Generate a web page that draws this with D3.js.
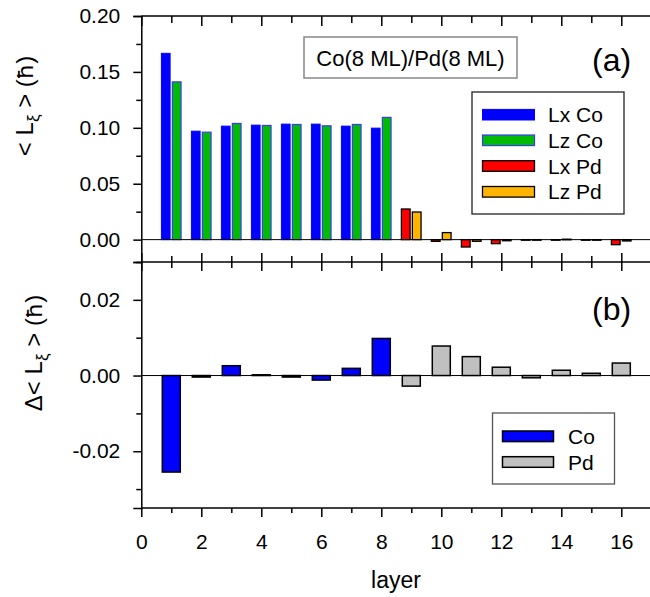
<!DOCTYPE html>
<html>
<head>
<meta charset="utf-8">
<script src="https://cdn.jsdelivr.net/npm/d3@7"></script>
<style>
  html, body { margin: 0; padding: 0; background: #fff; }
  svg { display: block; font-family: "Liberation Sans", Arial, sans-serif; }
</style>
</head>
<body>
<svg id="chart" width="650" height="597"></svg>
<script>
// Orbital moment per layer, Co(8 ML)/Pd(8 ML)
const layers = d3.range(1, 17);
const coLayers = [1, 2, 3, 4, 5, 6, 7, 8];
const pdLayers = [9, 10, 11, 12, 13, 14, 15, 16];

// panel (a): <L_xi> components
const lxCo = [0.1666, 0.0970, 0.1015, 0.1024, 0.1033, 0.1033, 0.1015, 0.0997];
const lzCo = [0.1411, 0.0961, 0.1039, 0.1021, 0.1030, 0.1018, 0.1030, 0.1093];
const lxPd = [0.0274, -0.0015, -0.0066, -0.0036, -0.0005, -0.0005, -0.0005, -0.0045];
const lzPd = [0.0247, 0.0063, -0.0015, -0.0010, -0.0005, 0.0004, -0.0005, -0.0012];

// panel (b): anisotropy Delta<L_xi>
const dCo = [-0.0255, -0.0004, 0.0026, 0.0002, -0.0004, -0.0012, 0.0019, 0.0098];
const dPd = [-0.0028, 0.0078, 0.0050, 0.0022, -0.0006, 0.0014, 0.0006, 0.0033];

const xTickLabels = [0, 2, 4, 6, 8, 10, 12, 14, 16];
const yTicksA = [0.00, 0.05, 0.10, 0.15, 0.20];
const yTicksB = [-0.02, 0.00, 0.02];

const legendA = ["Lx Co", "Lz Co", "Lx Pd", "Lz Pd"];
const legendB = ["Co", "Pd"];

const svg = d3.select("#chart");
const W = 650;

const x = d3.scaleLinear().domain([0, 17.5]).range([141.3, 666.3]);
const yA = d3.scaleLinear().domain([-0.02, 0.20]).range([262, 16]);
const yB = d3.scaleLinear().domain([-0.035, 0.03]).range([508, 262]);

const fmt = d3.format(".2f");
const minusFmt = v => (v < 0 ? "-" : "") + fmt(Math.abs(v));

const styles = {
  "Lx Co": { fill: "#0000ff", stroke: "#0000ff", sw: 1 },
  "Lz Co": { fill: "#00bb00", stroke: "#3a3aff", sw: 1.2 },
  "Lx Pd": { fill: "#ff0000", stroke: "#000", sw: 1.3 },
  "Lz Pd": { fill: "#ffb400", stroke: "#000", sw: 1.3 },
  "Co": { fill: "#0000ff", stroke: "#000", sw: 1.5 },
  "Pd": { fill: "#c0c0c0", stroke: "#000", sw: 1.5 }
};

const plot = svg.append("g");

// ---------- panel (a) bars ----------
function barsA(data, idx, key, offset) {
  const st = styles[key];
  plot.append("g").selectAll("rect")
    .data(data.map((v, i) => ({ layer: idx[i], v })))
    .join("rect")
    .attr("x", d => x(d.layer + offset))
    .attr("width", x(0.29) - x(0))
    .attr("y", d => yA(Math.max(0, d.v)))
    .attr("height", d => Math.max(0.6, Math.abs(yA(d.v) - yA(0))))
    .attr("fill", st.fill)
    .attr("stroke", st.stroke)
    .attr("stroke-width", st.sw);
}
barsA(lxCo, coLayers, "Lx Co", -0.33);
barsA(lzCo, coLayers, "Lz Co", 0.035);
barsA(lxPd, pdLayers, "Lx Pd", -0.33);
barsA(lzPd, pdLayers, "Lz Pd", 0.035);

plot.append("line")
  .attr("x1", x(0)).attr("x2", W).attr("y1", yA(0)).attr("y2", yA(0))
  .attr("stroke", "#000").attr("stroke-width", 1);

// ---------- panel (b) bars ----------
function barsB(data, idx, key) {
  const st = styles[key];
  plot.append("g").selectAll("rect")
    .data(data.map((v, i) => ({ layer: idx[i], v })))
    .join("rect")
    .attr("x", d => x(d.layer - 0.3))
    .attr("width", x(0.6) - x(0))
    .attr("y", d => yB(Math.max(0, d.v)))
    .attr("height", d => Math.max(0.6, Math.abs(yB(d.v) - yB(0))))
    .attr("fill", st.fill)
    .attr("stroke", st.stroke)
    .attr("stroke-width", st.sw);
}
barsB(dCo, coLayers, "Co");
barsB(dPd, pdLayers, "Pd");

plot.append("line")
  .attr("x1", x(0)).attr("x2", W).attr("y1", yB(0)).attr("y2", yB(0))
  .attr("stroke", "#000").attr("stroke-width", 1);

// ---------- axes ----------
const allX = d3.range(0, 18);
function styleAxis(g) {
  g.select(".domain").attr("stroke", "#000").attr("stroke-width", 1.5);
  g.selectAll(".tick line").attr("stroke", "#000").attr("stroke-width", 1.5);
  g.selectAll(".tick text").attr("fill", "#000").attr("font-size", 21)
    .attr("font-family", "Liberation Sans, Arial, sans-serif");
}

// top border of (a): inward ticks
const topMajor = svg.append("g").attr("transform", `translate(0,${yA(0.20)})`)
  .call(d3.axisTop(x).tickValues(allX.filter(v => v % 2 === 0)).tickSize(-10).tickFormat(""));
const topMinor = svg.append("g").attr("transform", `translate(0,${yA(0.20)})`)
  .call(d3.axisTop(x).tickValues(allX.filter(v => v % 2 === 1)).tickSize(-7).tickFormat(""));
[topMajor, topMinor].forEach(g => { styleAxis(g); g.select(".domain").remove(); });

// middle border: ticks crossing both ways
const midY = yA(-0.02);
[[allX.filter(v => v % 2 === 0), 9], [allX.filter(v => v % 2 === 1), 6]].forEach(([vals, len]) => {
  const g1 = svg.append("g").attr("transform", `translate(0,${midY})`)
    .call(d3.axisBottom(x).tickValues(vals).tickSize(len).tickFormat(""));
  const g2 = svg.append("g").attr("transform", `translate(0,${midY})`)
    .call(d3.axisTop(x).tickValues(vals).tickSize(len).tickFormat(""));
  [g1, g2].forEach(g => { styleAxis(g); g.select(".domain").remove(); });
});

// bottom x axis
const botMinor = svg.append("g").attr("transform", `translate(0,${yB(-0.035)})`)
  .call(d3.axisBottom(x).tickValues(allX.filter(v => v % 2 === 1)).tickSize(5).tickFormat(""));
styleAxis(botMinor); botMinor.select(".domain").remove();
const botMajor = svg.append("g").attr("transform", `translate(0,${yB(-0.035)})`)
  .call(d3.axisBottom(x).tickValues(xTickLabels).tickSize(9).tickPadding(17).tickFormat(d3.format("d")));
styleAxis(botMajor); botMajor.select(".domain").remove();

// horizontal border lines
[yA(0.20), midY, yB(-0.035)].forEach(yy => {
  svg.append("line").attr("x1", x(0)).attr("x2", W).attr("y1", yy).attr("y2", yy)
    .attr("stroke", "#000").attr("stroke-width", 1.5);
});

// left axis (a)
const leftA = svg.append("g").attr("transform", `translate(${x(0)},0)`)
  .call(d3.axisLeft(yA).tickValues(yTicksA).tickSize(8).tickPadding(13).tickFormat(minusFmt));
styleAxis(leftA);
const leftAm = svg.append("g").attr("transform", `translate(${x(0)},0)`)
  .call(d3.axisLeft(yA).tickValues([0.025, 0.075, 0.125, 0.175, -0.02]).tickSize(5).tickFormat(""));
styleAxis(leftAm); leftAm.select(".domain").remove();

// left axis (b)
const leftB = svg.append("g").attr("transform", `translate(${x(0)},0)`)
  .call(d3.axisLeft(yB).tickValues(yTicksB).tickSize(8).tickPadding(13).tickFormat(minusFmt));
styleAxis(leftB);
const leftBm = svg.append("g").attr("transform", `translate(${x(0)},0)`)
  .call(d3.axisLeft(yB).tickValues([0.01, -0.01, -0.03]).tickSize(5).tickFormat(""));
styleAxis(leftBm); leftBm.select(".domain").remove();

// ---------- titles ----------
svg.append("text").attr("x", 396).attr("y", 588).attr("text-anchor", "middle")
  .attr("font-size", 23).text("layer");

function yTitle(prefix, cx, cy) {
  const t = svg.append("text")
    .attr("transform", `translate(${cx},${cy}) rotate(-90)`)
    .attr("text-anchor", "middle").attr("font-size", 24);
  t.append("tspan").text(prefix + "< L");
  t.append("tspan").attr("font-size", 17).attr("dy", 6).text("ξ");
  t.append("tspan").attr("dy", -6).text(" > (");
  t.append("tspan").attr("font-family", "DejaVu Sans").attr("font-size", 22).text("ħ");
  t.append("tspan").text(")");
}
yTitle("", 33, 106);
yTitle("Δ", 42, 353);

// panel tags
svg.append("text").attr("x", 592).attr("y", 71).attr("font-size", 32).text("(a)");
svg.append("text").attr("x", 592).attr("y", 320).attr("font-size", 32).text("(b)");

// sample label box
svg.append("rect").attr("x", 304).attr("y", 37).attr("width", 213).attr("height", 41)
  .attr("fill", "#fff").attr("stroke", "#888").attr("stroke-width", 1.5);
svg.append("text").attr("x", 410.5).attr("y", 66).attr("text-anchor", "middle")
  .attr("font-size", 22).text("Co(8 ML)/Pd(8 ML)");

// ---------- legends ----------
function legend(keys, bx, by, bw, bh, sx, sw, ys, tx, border) {
  svg.append("rect").attr("x", bx).attr("y", by).attr("width", bw).attr("height", bh)
    .attr("fill", "#fff").attr("stroke", border).attr("stroke-width", 1.3);
  const g = svg.append("g").selectAll("g").data(keys).join("g");
  g.append("rect")
    .attr("x", sx).attr("width", sw)
    .attr("y", (d, i) => ys[i] - 5.3).attr("height", 10.6)
    .attr("fill", d => styles[d].fill)
    .attr("stroke", d => styles[d].stroke)
    .attr("stroke-width", d => styles[d].sw);
  g.append("text").attr("x", tx).attr("y", (d, i) => ys[i] + 7.5)
    .attr("font-size", 21).text(d => d);
}
legend(legendA, 472, 92, 152, 122, 482.5, 52, [114.7, 140.3, 166, 191.8], 548, "#222");
legend(legendB, 492.5, 413, 122, 71, 502.5, 51, [436.3, 462], 568, "#555");
</script>
</body>
</html>
